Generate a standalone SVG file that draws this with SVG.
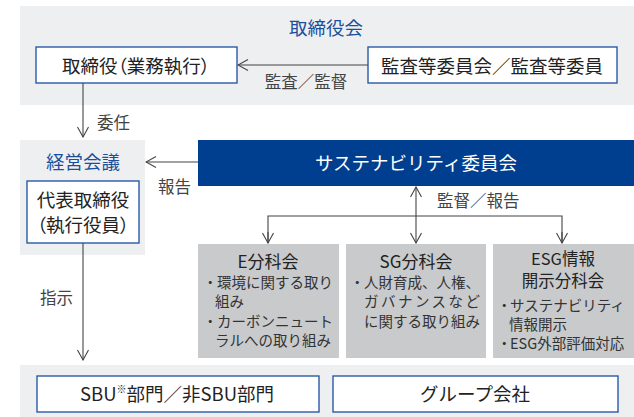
<svg xmlns="http://www.w3.org/2000/svg" width="634" height="417" viewBox="0 0 634 417">
<style>
text{font-family:"Noto Sans CJK JP","Noto Sans",sans-serif;fill:#333}
.panel{fill:#eeeff1}
.box{fill:#fff;stroke:#2a5ba8;stroke-width:1.4}
.sub{fill:#c8cacc}
.ttl{fill:#1a4f9c;font-size:18.5px}
.bx{font-size:18.5px;fill:#222}
.pl{font-feature-settings:"palt"}
.lbl{font-size:16.5px;fill:#444}
.st{font-size:17px;fill:#222}
.bd{font-size:14.5px;fill:#333}
.ln{stroke:#444;stroke-width:1.1;fill:none}
</style>
<defs>
<marker id="ah" viewBox="0 0 12 12" refX="11" refY="6" markerWidth="12" markerHeight="12" markerUnits="userSpaceOnUse" orient="auto-start-reverse">
<path d="M1,0.5 L11,6 L1,11.5" fill="none" stroke="#444" stroke-width="1.1"/>
</marker>
</defs>
<g id="board">
<rect class="panel" x="20" y="6" width="614" height="99"/>
<text class="ttl" x="326" y="35" text-anchor="middle">取締役会</text>
</g>
<g id="director">
<rect class="box" x="36" y="47" width="201" height="36"/>
<text class="bx pl" x="136" y="72.5" text-anchor="middle">取締役（業務執行）</text>
</g>
<g id="audit">
<rect class="box" x="368" y="47" width="249" height="36"/>
<text class="bx" x="492" y="72.5" text-anchor="middle">監査等委員会／監査等委員</text>
</g>
<g id="mgmt">
<rect class="panel" x="20" y="140" width="125" height="115"/>
<text class="ttl" x="83" y="169" text-anchor="middle">経営会議</text>
<rect class="box" x="27" y="181" width="112" height="62"/>
<text class="bx" x="83" y="207" text-anchor="middle">代表取締役</text>
<text class="bx pl" x="83" y="232" text-anchor="middle">（執行役員）</text>
</g>
<g id="committee">
<rect x="198" y="140" width="436" height="46" fill="#003f8f"/>
<text x="416" y="170" text-anchor="middle" style="font-size:18.5px;fill:#fff">サステナビリティ委員会</text>
</g>
<g id="sub-e">
<rect class="sub" x="198" y="244" width="141" height="114"/>
<text class="st" x="268" y="268" text-anchor="middle">E分科会</text>
<text class="bd"><tspan x="203" y="288">・</tspan><tspan x="217">環境に関する取り</tspan></text>
<text class="bd" x="215" y="307">組み</text>
<text class="bd"><tspan x="203" y="327">・</tspan><tspan x="217">カーボンニュート</tspan></text>
<text class="bd" x="215" y="346">ラルへの取り組み</text>
</g>
<g id="sub-sg">
<rect class="sub" x="346" y="244" width="140" height="114"/>
<text class="st" x="416" y="268" text-anchor="middle">SG分科会</text>
<text class="bd"><tspan x="350" y="288">・</tspan><tspan x="364">人財育成、人権、</tspan></text>
<text class="bd" x="364" y="307" textLength="116" lengthAdjust="spacing">ガバナンスなど</text>
<text class="bd" x="364" y="327">に関する取り組み</text>
</g>
<g id="sub-esg">
<rect class="sub" x="493" y="244" width="141" height="114"/>
<text class="st" x="563" y="265" style="font-size:16.5px" text-anchor="middle">ESG情報</text>
<text class="st" x="563" y="287" style="font-size:16.5px" text-anchor="middle">開示分科会</text>
<text class="bd"><tspan x="497" y="311">・</tspan><tspan x="510">サステナビリティ</tspan></text>
<text class="bd" x="509" y="330">情報開示</text>
<text class="bd"><tspan x="497" y="349">・</tspan><tspan x="510">ESG外部評価対応</tspan></text>
</g>
<g id="bottom">
<rect class="panel" x="20" y="365" width="614" height="52"/>
</g>
<g id="sbu">
<rect class="box" x="37" y="376" width="282" height="36"/>
<text class="bx" x="177" y="401" text-anchor="middle">SBU<tspan style="font-size:10px" dy="-8">※</tspan><tspan dy="8">部門／非SBU部門</tspan></text>
</g>
<g id="group">
<rect class="box" x="333" y="376" width="285" height="36"/>
<text class="bx" x="475" y="401" text-anchor="middle">グループ会社</text>
</g>
<g id="connectors">
<line class="ln" x1="368" y1="65" x2="238" y2="65" marker-end="url(#ah)"/>
<text class="lbl" x="306" y="88" text-anchor="middle">監査／監督</text>
<line class="ln" x1="83" y1="83" x2="83" y2="137" marker-end="url(#ah)"/>
<text class="lbl" x="97" y="129">委任</text>
<line class="ln" x1="198" y1="162" x2="146" y2="162" marker-end="url(#ah)"/>
<text class="lbl" x="158" y="193">報告</text>
<line class="ln" x1="416" y1="187" x2="416" y2="243" marker-start="url(#ah)" marker-end="url(#ah)"/>
<polyline class="ln" points="268,243 268,216 562,216 562,243"/>
<line class="ln" x1="268" y1="232" x2="268" y2="243" marker-end="url(#ah)"/>
<line class="ln" x1="562" y1="232" x2="562" y2="243" marker-end="url(#ah)"/>
<text class="lbl" x="437" y="207">監督／報告</text>
<line class="ln" x1="83" y1="243" x2="83" y2="360" marker-end="url(#ah)"/>
<text class="lbl" x="40" y="304">指示</text>
</g>
</svg>
